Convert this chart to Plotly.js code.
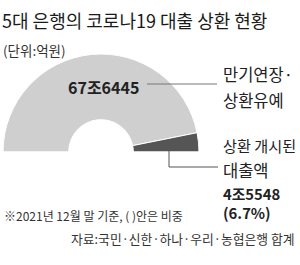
<!DOCTYPE html>
<html>
<head>
<meta charset="utf-8">
<script src="https://cdn.plot.ly/plotly-3.0.1.min.js"></script>
<style>html,body{margin:0;padding:0;background:#fff;}#chart{width:300px;height:265px;}</style>
</head>
<body>
<div id="chart"></div>
<script>
// Data (억원)
const categories = ["만기연장·상환유예", "상환 개시된 대출액"];
const values = [676445, 45548];
const valueLabels = ["67조6445", "4조5548"];
const shareLabel = "(6.7%)";
const sliceColors = ["#cfcfcf", "#555555"];

const W = 300, H = 265;
const px = x => x / W;
const py = y => 1 - y / H;
const FONT = '"Noto Sans CJK KR", "Noto Sans", sans-serif';

const total = values.reduce((a, b) => a + b, 0);
const cx = 101, cy = 152, R = 98;

const trace = {
  type: 'pie',
  values: values.concat([total]),
  labels: categories.concat(['hidden']),
  sort: false,
  direction: 'clockwise',
  rotation: -90,
  hole: 0.33,
  textinfo: 'none',
  hoverinfo: 'skip',
  showlegend: false,
  marker: {colors: sliceColors.concat(['rgba(0,0,0,0)']), line: {color: '#ffffff', width: 1}},
  domain: {x: [px(cx - R), px(cx + R)], y: [py(cy + R), py(cy - R)]}
};

const ann = (text, x, y, size, opts) => Object.assign({
  text: text, x: px(x), y: py(y), xref: 'paper', yref: 'paper',
  xanchor: 'left', yanchor: 'middle', showarrow: false,
  font: {family: FONT, size: size, color: '#222'}
}, opts || {});

const layout = {
  width: W, height: H,
  margin: {l: 0, r: 0, t: 0, b: 0},
  paper_bgcolor: '#ffffff', plot_bgcolor: '#ffffff',
  title: {
    text: '5대 은행의 코로나19 대출 상환 현황',
    x: px(2), xref: 'paper', xanchor: 'left',
    y: py(22), yref: 'container', yanchor: 'middle',
    font: {family: FONT, size: 18, color: '#1a1a1a'}
  },
  shapes: [
    {type: 'line', xref: 'paper', yref: 'paper', x0: px(147), y0: py(84), x1: px(217), y1: py(84), line: {color: '#777777', width: 1}},
    {type: 'line', xref: 'paper', yref: 'paper', x0: px(169), y0: py(150), x1: px(169), y1: py(167), line: {color: '#555555', width: 1}},
    {type: 'line', xref: 'paper', yref: 'paper', x0: px(169), y0: py(167), x1: px(218), y1: py(167), line: {color: '#555555', width: 1}}
  ],
  annotations: [
    ann('(단위:억원)', 1, 50, 13.5, {font: {family: FONT, size: 13.5, color: '#333'}}),
    ann('<b>' + valueLabels[0] + '</b>', 103, 87, 16, {xanchor: 'center'}),
    ann('만기연장·', 221, 74, 16.5),
    ann('상환유예', 221, 100, 16.5),
    ann('상환 개시된', 221, 145, 15.2),
    ann('대출액', 221, 170, 16.5),
    ann('<b>' + valueLabels[1] + '</b><br><b>' + shareLabel + '</b>', 221, 203, 14.8, {align: 'left'}),
    ann('※2021년 12월 말 기준, ( )안은 비중', 2, 215, 12, {font: {family: FONT, size: 12, color: '#333'}}),
    ann('자료:국민·신한·하나·우리·농협은행 합계', 297, 238, 12.8, {xanchor: 'right', font: {family: FONT, size: 12.8, color: '#333'}})
  ]
};

Plotly.newPlot('chart', [trace], layout, {displayModeBar: false, staticPlot: true});
</script>
</body>
</html>
